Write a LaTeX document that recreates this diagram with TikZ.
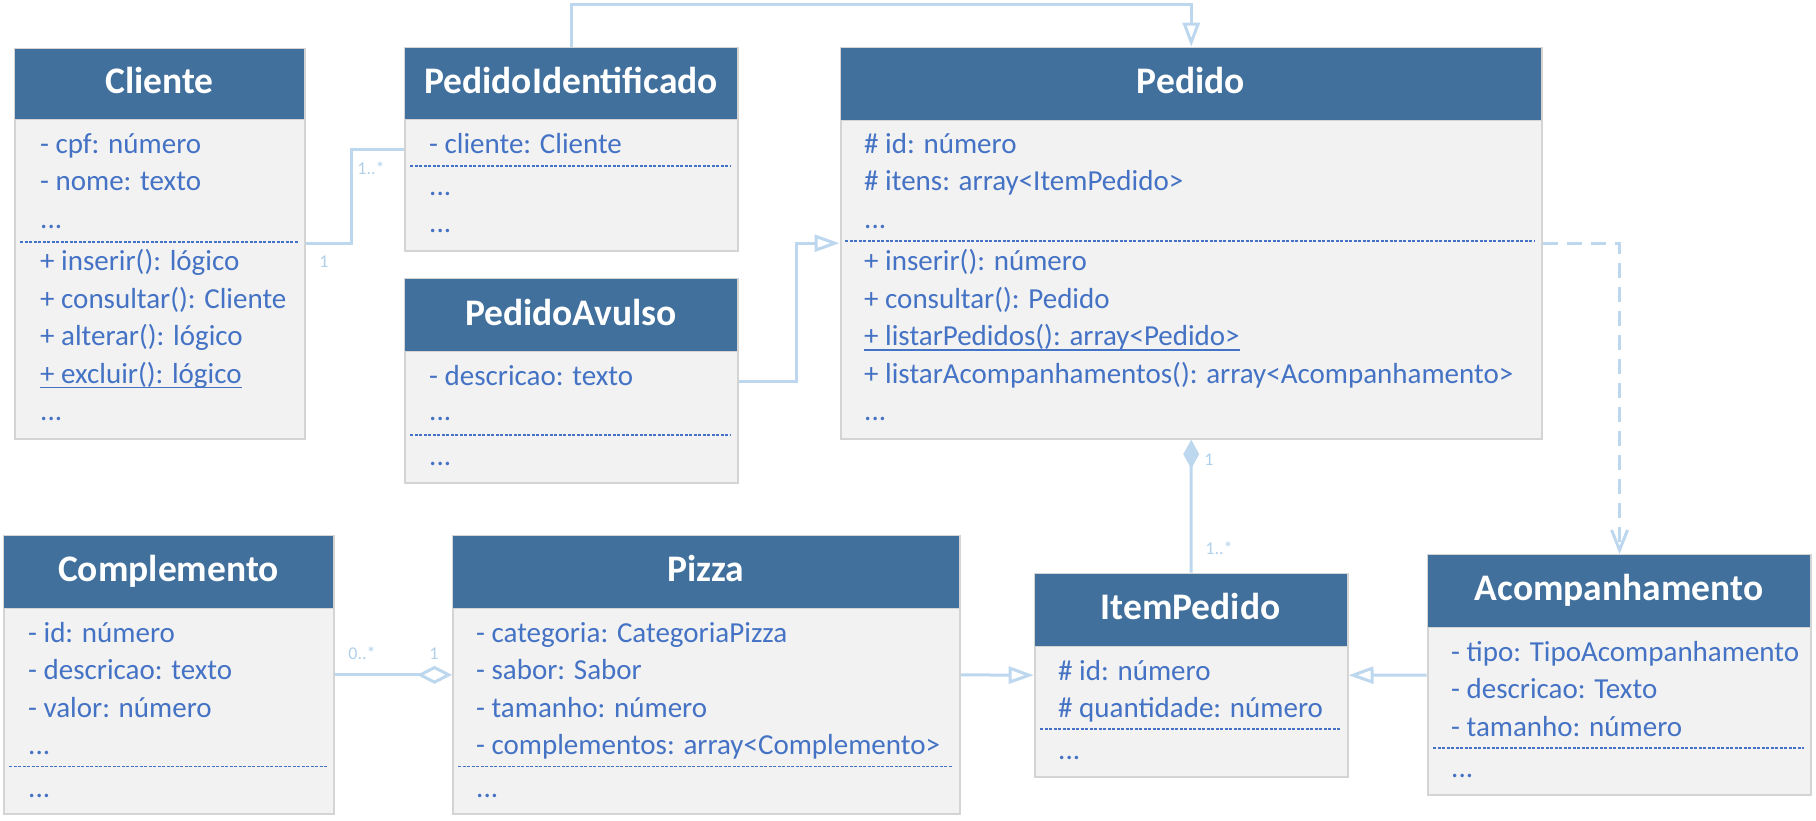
\documentclass[tikz,border=0pt]{standalone}
\usepackage{fontspec}
\setmainfont{Carlito}
\usetikzlibrary{arrows.meta,calc}
\definecolor{hdr}{RGB}{65,112,157}
\definecolor{bodyc}{RGB}{242,242,242}
\definecolor{brd}{RGB}{212,212,212}
\definecolor{txt}{RGB}{68,114,196}
\definecolor{conn}{RGB}{189,215,238}
\definecolor{lbl}{RGB}{176,208,234}
\begin{document}
\begin{tikzpicture}[x=1pt,y=-1pt,
  classbody/.style={draw=brd, line width=2pt, fill=bodyc, anchor=north west, inner sep=0pt},
  classhead/.style={draw=brd, line width=1pt, fill=hdr, anchor=north west, inner sep=0pt,
    text=white, font=\fontsize{37.5}{45}\selectfont\bfseries, text height=26pt, text depth=6pt},
  attr/.style={anchor=base west, inner sep=0pt, text=txt, font=\fontsize{29}{35}\selectfont},
  sepline/.style={draw=txt, line width=1.5pt, dash pattern=on 3pt off 1.5pt},
  uline/.style={draw=txt, line width=1.5pt},
  connector/.style={draw=conn, line width=3pt},
  mult/.style={inner sep=0pt, text=lbl, font=\fontsize{18}{20}\selectfont},
]
\useasboundingbox (0,0) rectangle (1816,820);

% ---------------- Cliente
\node[classbody, minimum width=290pt, minimum height=390pt] (cliente) at (14,47.5) {};
\node[classhead, minimum width=290pt, minimum height=71.5pt] (clienteH) at (14,47.5) {Cliente};
\node[attr] (cl1) at (40,153) {- cpf: número};
\node[attr] (cl2) at (40,190.5) {- nome: texto};
\node[attr] (cl3) at (40,228) {...};
\draw[sepline] (20,242) -- (298,242);
\node[attr] (cl4) at (40,270.5) {+ inserir(): lógico};
\node[attr] (cl5) at (40,308) {+ consultar(): Cliente};
\node[attr] (cl6) at (40,345.5) {+ alterar(): lógico};
\node[attr] (cl7) at (40,383) {+ excluir(): lógico};
\draw[uline] ([yshift=-4.5pt]cl7.base west) -- ([yshift=-4.5pt]cl7.base east);
\node[attr] (cl8) at (40,420.5) {...};

% ---------------- PedidoIdentificado
\node[classbody, minimum width=333pt, minimum height=203.3pt] (pidn) at (404,46.7) {};
\node[classhead, minimum width=333pt, minimum height=72.3pt] (pidnH) at (404,46.7) {PedidoIdentificado};
\node[attr] (pi1) at (429,153) {- cliente: Cliente};
\draw[sepline] (410,166) -- (731,166);
\node[attr] (pi2) at (429,195) {...};
\node[attr] (pi3) at (429,232.5) {...};

% ---------------- PedidoAvulso
\node[classbody, minimum width=333pt, minimum height=204pt] (pavulso) at (404,278) {};
\node[classhead, minimum width=333pt, minimum height=73pt] (pavulsoH) at (404,278) {PedidoAvulso};
\node[attr] (pa1) at (429,385) {- descricao: texto};
\node[attr] (pa2) at (429,420) {...};
\draw[sepline] (410,435) -- (731,435);
\node[attr] (pa3) at (429,465) {...};

% ---------------- Pedido
\node[classbody, minimum width=701.5pt, minimum height=391pt] (pedido) at (839.5,46.7) {};
\node[classhead, minimum width=701.5pt, minimum height=73.3pt] (pedidoH) at (839.5,46.7) {Pedido};
\node[attr] (pe1) at (864,153) {\# id: número};
\node[attr] (pe2) at (864,190.5) {\# itens: array<ItemPedido>};
\node[attr] (pe3) at (864,228) {...};
\draw[sepline] (845,241) -- (1535,241);
\node[attr] (pe4) at (864,270.5) {+ inserir(): número};
\node[attr] (pe5) at (864,308) {+ consultar(): Pedido};
\node[attr] (pe6) at (864,345.5) {+ listarPedidos(): array<Pedido>};
\draw[uline] ([yshift=-4.5pt]pe6.base west) -- ([yshift=-4.5pt]pe6.base east);
\node[attr] (pe7) at (864,383) {+ listarAcompanhamentos(): array<Acompanhamento>};
\node[attr] (pe8) at (864,420.5) {...};

% ---------------- Complemento
\node[classbody, minimum width=330pt, minimum height=277.7pt] (compl) at (3,535) {};
\node[classhead, minimum width=330pt, minimum height=72.7pt] (complH) at (3,535) {Complemento};
\node[attr] (co1) at (28,642) {- id: número};
\node[attr] (co2) at (28,679.5) {- descricao: texto};
\node[attr] (co3) at (28,717) {- valor: número};
\node[attr] (co4) at (28,754.5) {...};
\draw[sepline] (9,766.7) -- (327,766.7);
\node[attr] (co5) at (28,797) {...};

% ---------------- Pizza
\node[classbody, minimum width=507pt, minimum height=277.7pt] (pizza) at (452,535) {};
\node[classhead, minimum width=507pt, minimum height=72.7pt] (pizzaH) at (452,535) {Pizza};
\node[attr] (pz1) at (476,642) {- categoria: CategoriaPizza};
\node[attr] (pz2) at (476,679.5) {- sabor: Sabor};
\node[attr] (pz3) at (476,717) {- tamanho: número};
\node[attr] (pz4) at (476,754.5) {- complementos: array<Complemento>};
\draw[sepline] (458,766.7) -- (953,766.7);
\node[attr] (pz5) at (476,797) {...};

% ---------------- ItemPedido
\node[classbody, minimum width=312.8pt, minimum height=203pt] (itemp) at (1033.7,572.7) {};
\node[classhead, minimum width=312.8pt, minimum height=73pt] (itempH) at (1033.7,572.7) {ItemPedido};
\node[attr] (ip1) at (1058,680) {\# id: número};
\node[attr] (ip2) at (1058,717.5) {\# quantidade: número};
\draw[sepline] (1040,729) -- (1340,729);
\node[attr] (ip3) at (1058,759) {...};

% ---------------- Acompanhamento
\node[classbody, minimum width=383.7pt, minimum height=240pt] (acomp) at (1426.7,554) {};
\node[classhead, minimum width=383.7pt, minimum height=72.7pt] (acompH) at (1426.7,554) {Acompanhamento};
\node[attr] (ac1) at (1451,661) {- tipo: TipoAcompanhamento};
\node[attr] (ac2) at (1451,698.5) {- descricao: Texto};
\node[attr] (ac3) at (1451,736) {- tamanho: número};
\draw[sepline] (1433,748) -- (1804,748);
\node[attr] (ac4) at (1451,777) {...};

% ---------------- Connectors
\draw[connector, -{Triangle[open,length=24pt,width=17pt]}] (pidn.north) -- ++(0,-42) -| (pedido.north);
\draw[connector, -{Triangle[open,length=25pt,width=17pt]}] (pavulso.east) -- ++(57,0) |- (pedido.west);
\draw[connector] (cliente.east) -- ++(45,0) |- (pidn.west);
\draw[connector, dash pattern=on 15pt off 9pt, -{Straight Barb[length=20pt,width=16pt]}] (pedido.east) -| (acomp.north);
\draw[connector, {Diamond[length=29pt,width=16pt]}-] (pedido.south) -- (itemp.north);
\draw[connector, -{Triangle[open,length=25pt,width=17pt]}] (acomp.west) -- (itemp.east);
\draw[connector, -{Triangle[open,length=25pt,width=17pt]}] (pizza.east) -- (itemp.west);
\draw[connector, -{Diamond[open,length=35pt,width=18pt]}] (compl.east) -- (pizza.west);

% ---------------- Multiplicities
\node[mult] (m1) at (371,168) {1..*};
\node[mult] (m2) at (324,262) {1};
\node[mult] (m3) at (1209,460) {1};
\node[mult] (m4) at (1219,548) {1..*};
\node[mult] (m5) at (362,653) {0..*};
\node[mult] (m6) at (434,654) {1};
\end{tikzpicture}
\end{document}
